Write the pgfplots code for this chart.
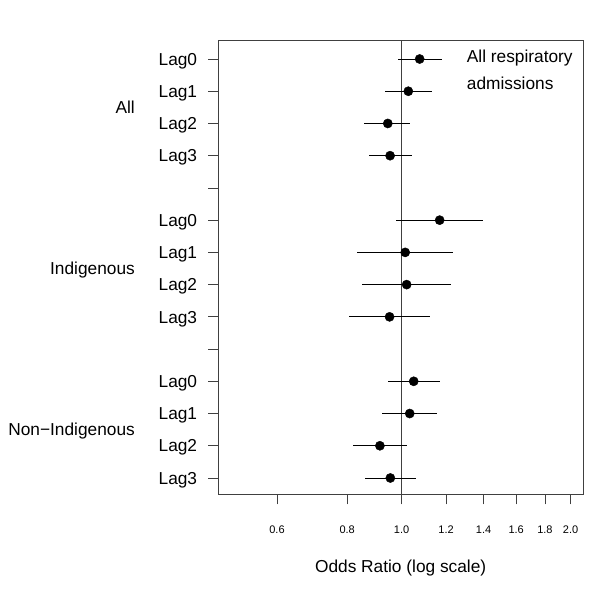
\documentclass[border=0pt]{standalone}
\usepackage{fontspec}
\setmainfont{Liberation Sans}
\usepackage{pgfplots}
\usepackage{pgfplotstable}
\pgfplotsset{compat=1.18}
\newcommand\fs{\fontsize{17.3bp}{20bp}\selectfont}
\pgfplotstableread{
y or lo hi
14 1.077 0.984 1.179
13 1.028 0.934 1.131
12 0.945 0.858 1.035
11 0.954 0.875 1.042
9 1.169 0.977 1.398
8 1.015 0.834 1.233
7 1.021 0.851 1.223
6 0.952 0.806 1.123
4 1.051 0.947 1.169
3 1.034 0.924 1.155
2 0.915 0.820 1.021
1 0.955 0.862 1.059
}\ordata
\begin{document}
\begin{tikzpicture}
\useasboundingbox (0,0) rectangle (600bp,599bp);
\begin{axis}[
  at={(218.3bp,104.7bp)}, anchor=south west,
  scale only axis, width=364.7bp, height=453.6bp,
  xmode=log, xmin=0.4717, xmax=2.104,
  ymin=0.494, ymax=14.568,
  axis line style={black!75, line width=0.8bp},
  tick style={black!75, line width=0.8bp},
  tick align=outside, major tick length=10bp,
  xtick pos=left, ytick pos=left,
  xtick={0.6,0.8,1.0,1.2,1.4,1.6,1.8,2.0},
  xticklabels={0.6,0.8,1.0,1.2,1.4,1.6,1.8,2.0},
  minor xtick={},
  ytick={1,...,14},
  yticklabels={Lag3,Lag2,Lag1,Lag0,,Lag3,Lag2,Lag1,Lag0,,Lag3,Lag2,Lag1,Lag0},
  xticklabel style={font=\fontsize{11bp}{13bp}\selectfont, anchor=center, yshift=-25bp},
  yticklabel style={font=\fs, text height=12.4bp, text depth=0pt, inner sep=0pt, anchor=east, xshift=-11bp},
  xlabel={Odds Ratio (log scale)},
  xlabel style={font=\fs, at={(axis description cs:0.5,0)}, anchor=center, yshift=-74bp},
  clip=false,
]
\addplot[black!75, line width=0.8bp] coordinates {(1,0.494) (1,14.568)};
\addplot[only marks, mark=*, mark size=4.6bp, black,
  error bars/.cd, x dir=both, x explicit,
  error bar style={black, line width=0.8bp}, error mark=none]
  table[x=or, y=y, x error plus expr=\thisrow{hi}-\thisrow{or}, x error minus expr=\thisrow{or}-\thisrow{lo}] {\ordata};
\node[anchor=base west, inner sep=0pt, font=\fs] at (axis cs:1.306,13.876) {All respiratory};
\node[anchor=base west, inner sep=0pt, font=\fs] at (axis cs:1.306,13.047) {admissions};
\node[anchor=east, inner sep=0pt, xshift=-83.3bp, font=\fs, text height=12.4bp, text depth=0pt] at ({rel axis cs:0,0} |- {axis cs:1,12.5}) {All};
\node[anchor=east, inner sep=0pt, xshift=-83.3bp, font=\fs, text height=12.4bp, text depth=0pt] at ({rel axis cs:0,0} |- {axis cs:1,7.5}) {Indigenous};
\node[anchor=east, inner sep=0pt, xshift=-83.3bp, font=\fs, text height=12.4bp, text depth=0pt] at ({rel axis cs:0,0} |- {axis cs:1,2.5}) {Non\textminus Indigenous};
\end{axis}
\end{tikzpicture}
\end{document}
